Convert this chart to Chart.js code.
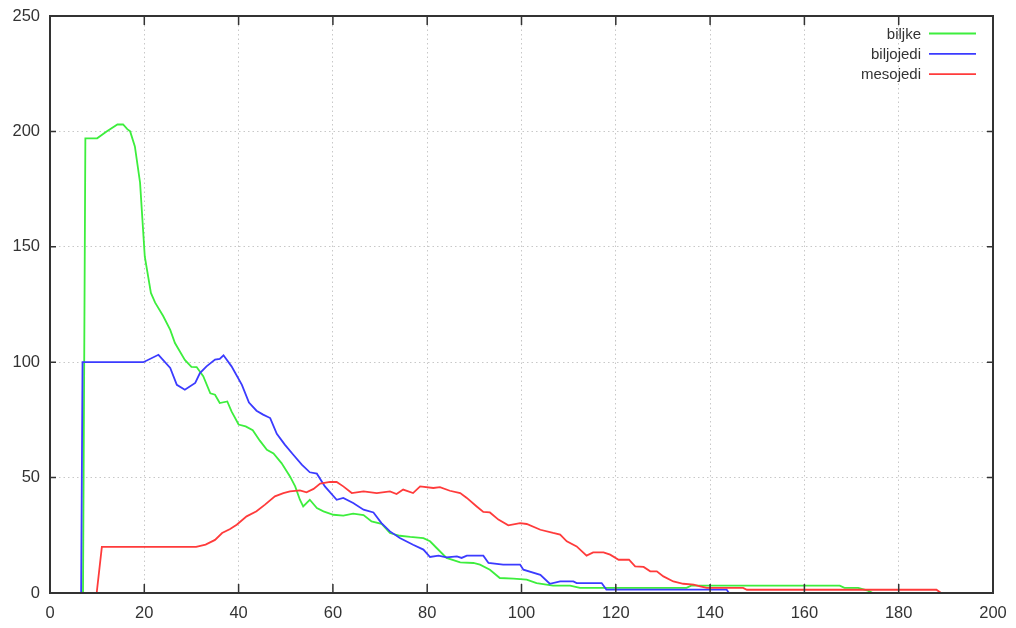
<!DOCTYPE html>
<html>
<head>
<meta charset="utf-8">
<title>biljke / biljojedi / mesojedi</title>
<script src="https://cdn.jsdelivr.net/npm/chart.js@4.4.1/dist/chart.umd.min.js"></script>
<style>
  body { margin: 0; background: #fff; }
  canvas { display: block; }
</style>
</head>
<body>
<canvas id="popChart" width="1016" height="628"></canvas>
<script>
// series names
const seriesNames = ["biljke", "biljojedi", "mesojedi"];

// biljke (plants)
const biljkeX = [0, 7, 7.5, 10, 12, 14.3, 15.5, 16.4, 17, 18, 19.1, 20.1, 21.4, 22.3, 24, 25.5, 26.5, 28.6, 30, 31.1, 32.5, 34, 35, 36, 37.6, 38.5, 40, 41.5, 43, 44.5, 46, 47.4, 49.1, 50.9, 52, 53, 53.7, 55.1, 56.6, 58, 60.1, 62.2, 64.3, 66.5, 68.2, 70.3, 72.1, 74.2, 76.4, 79.2, 80.6, 82, 84.1, 87, 89.8, 91.2, 93.3, 95.4, 98.3, 101.1, 103.2, 106.7, 110.3, 112.4, 135, 136, 167.5, 168.5, 171.4, 173.5, 174.5, 191];
const biljkeY = [0, 0, 197, 197, 200, 203, 203, 201, 200, 193.5, 177.8, 145.8, 130, 125.8, 120, 114, 108.3, 101, 98, 97.9, 93.9, 86.5, 85.9, 82.3, 83, 78.7, 73, 72.2, 70.5, 66, 62, 60.5, 56.3, 50.5, 46.2, 40.4, 37.5, 40.4, 36.8, 35.4, 33.9, 33.5, 34.4, 33.8, 31, 30, 26, 24.8, 24.3, 23.8, 22.4, 19.5, 15.2, 13.3, 13, 12.3, 10.1, 6.5, 6.2, 5.8, 4.3, 3.2, 3.2, 2.2, 2.2, 3.2, 3.2, 2.2, 2.2, 1, 0, 0];

// biljojedi (herbivores)
const biljojediX = [0, 6.6, 6.9, 19.8, 23, 25.5, 26.9, 28.6, 30.8, 31.8, 33.2, 35, 36, 36.8, 38.5, 40.7, 42.2, 43.8, 45.2, 46.7, 48.1, 49.8, 51.6, 53.4, 55.1, 56.6, 58.3, 60.8, 62.2, 64.3, 66.5, 68.6, 70.3, 72.1, 74.2, 77, 79.2, 80.6, 82.4, 84.1, 86.3, 87.3, 88.4, 91.9, 93, 96.1, 99.7, 100.4, 104, 106, 108.2, 111, 111.7, 117, 118, 143.5, 144, 191];
const biljojediY = [0, 0, 100, 100, 103.2, 97.5, 90.2, 88.1, 91, 95.3, 98.2, 101.1, 101.4, 103, 98.2, 90.2, 82.5, 79, 77.3, 75.8, 69, 64.3, 59.9, 55.6, 52.3, 51.7, 46.2, 40.4, 41.2, 39, 36.1, 34.9, 30.3, 26.7, 23.8, 20.9, 18.8, 15.6, 16.2, 15.4, 15.9, 15.2, 16.2, 16.2, 13, 12.3, 12.3, 10.1, 7.9, 4, 5, 5, 4.3, 4.3, 1.5, 1.5, 0, 0];

// mesojedi (carnivores)
const mesojediX = [0, 9.9, 11, 31, 33, 35, 36.5, 38.2, 39.6, 41.7, 43.8, 45.6, 47.7, 49.5, 50.9, 53, 54.4, 55.9, 57.3, 59.4, 60.8, 62.2, 64, 66.5, 69.3, 72.1, 73.5, 74.9, 77, 78.5, 81.3, 82.7, 84.8, 87, 88.4, 90.5, 91.9, 93.3, 95.1, 97.2, 99.7, 101.1, 104, 106.7, 108.2, 109.6, 111.7, 113.8, 115.2, 117.4, 118.8, 120.6, 122.8, 124.1, 125.9, 127.3, 128.7, 130.1, 132.2, 134.3, 136.5, 137.9, 139.3, 147, 147.8, 188, 189, 191];
const mesojediY = [0, 0, 20, 20, 21, 23, 26, 27.7, 29.6, 33.2, 35.4, 38.3, 41.9, 43.3, 44, 44.5, 43.6, 45.1, 47.4, 48.1, 48.1, 46.2, 43.3, 44, 43.3, 44, 42.9, 44.8, 43.3, 46.2, 45.5, 45.9, 44.3, 43.3, 41.2, 37.5, 35.1, 34.9, 31.8, 29.3, 30.3, 29.9, 27.4, 26, 25.3, 22.4, 20.2, 16.2, 17.6, 17.6, 16.6, 14.4, 14.4, 11.5, 11.3, 9.4, 9.4, 7.2, 5, 4, 3.6, 2.9, 2.2, 2.2, 1.4, 1.4, 0, 0];

// axis ticks
const xTicks = [0, 20, 40, 60, 80, 100, 120, 140, 160, 180, 200];
const yTicks = [0, 50, 100, 150, 200, 250];

const lineColors = ["#3dee3d", "#3b3bff", "#ff3b3b"];
const fontName = "'Liberation Sans', Arial, sans-serif";

function toPoints(xs, ys) {
  return xs.map((x, i) => ({ x: x, y: ys[i] }));
}

// gnuplot-like frame, inward tics and legend
const gnuplotFrame = {
  id: "gnuplotFrame",
  afterDatasetsDraw(chart) {
    const ctx = chart.ctx;
    const area = chart.chartArea;
    const xs = chart.scales.x;
    const ys = chart.scales.y;
    ctx.save();
    ctx.strokeStyle = "#333";
    ctx.lineWidth = 1.5;
    xTicks.forEach((t) => {
      const px = xs.getPixelForValue(t);
      ctx.beginPath();
      ctx.moveTo(px, area.bottom);
      ctx.lineTo(px, area.bottom - 9);
      ctx.moveTo(px, area.top);
      ctx.lineTo(px, area.top + 9);
      ctx.stroke();
    });
    yTicks.forEach((t) => {
      const py = ys.getPixelForValue(t);
      ctx.beginPath();
      ctx.moveTo(area.left, py);
      ctx.lineTo(area.left + 6, py);
      ctx.moveTo(area.right, py);
      ctx.lineTo(area.right - 6, py);
      ctx.stroke();
    });
    ctx.lineWidth = 2;
    ctx.strokeRect(area.left, area.top, area.right - area.left, area.bottom - area.top);

    // legend, top right
    ctx.font = "15px " + fontName;
    ctx.textAlign = "right";
    ctx.textBaseline = "middle";
    seriesNames.forEach((name, i) => {
      const y = 33.5 + i * 20.3;
      ctx.fillStyle = "#333";
      ctx.fillText(name, 921, y + 1);
      ctx.strokeStyle = lineColors[i];
      ctx.lineWidth = 1.8;
      ctx.beginPath();
      ctx.moveTo(929, y);
      ctx.lineTo(976, y);
      ctx.stroke();
    });
    ctx.restore();
  }
};

const seriesX = [biljkeX, biljojediX, mesojediX];
const seriesY = [biljkeY, biljojediY, mesojediY];

new Chart(document.getElementById("popChart"), {
  type: "scatter",
  data: {
    datasets: seriesNames.map((name, i) => ({
      label: name,
      data: toPoints(seriesX[i], seriesY[i]),
      showLine: true,
      borderColor: lineColors[i],
      backgroundColor: lineColors[i],
      borderWidth: 1.8,
      pointRadius: 0,
      tension: 0,
      order: 2 - i
    }))
  },
  options: {
    responsive: false,
    animation: false,
    devicePixelRatio: 1,
    layout: { padding: { left: 0, right: 23, top: 16, bottom: 0 } },
    plugins: {
      legend: { display: false },
      tooltip: { enabled: false }
    },
    scales: {
      x: {
        type: "linear",
        min: 0,
        max: 200,
        afterFit(scale) {
          scale.height = 35;
          scale.paddingLeft = 0;
          scale.paddingRight = 0;
        },
        afterBuildTicks(scale) { scale.ticks = xTicks.map((v) => ({ value: v })); },
        ticks: {
          color: "#333",
          font: { family: fontName, size: 16.5 },
          padding: 11,
          maxRotation: 0
        },
        grid: { color: "#c8c8c8", lineWidth: 1, drawTicks: false },
        border: { display: false, dash: [1.5, 3] }
      },
      y: {
        min: 0,
        max: 250,
        afterFit(scale) {
          scale.width = 50;
          scale.paddingTop = 0;
          scale.paddingBottom = 0;
        },
        afterBuildTicks(scale) { scale.ticks = yTicks.map((v) => ({ value: v })); },
        ticks: {
          color: "#333",
          font: { family: fontName, size: 16.5 },
          padding: 10
        },
        grid: { color: "#c8c8c8", lineWidth: 1, drawTicks: false },
        border: { display: false, dash: [1.5, 3] }
      }
    }
  },
  plugins: [gnuplotFrame]
});
</script>
</body>
</html>
